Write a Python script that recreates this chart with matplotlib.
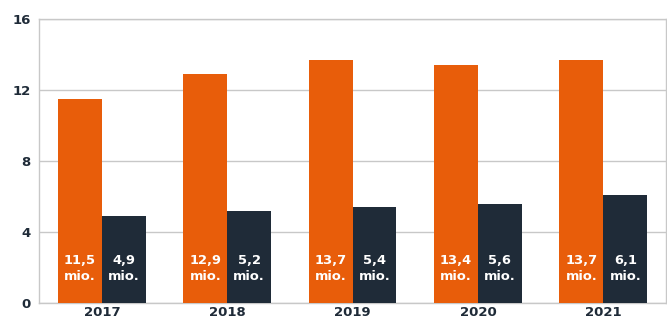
import matplotlib.pyplot as plt
import numpy as np

years = ['2017', '2018', '2019', '2020', '2021']
orange_vals = [11.5, 12.9, 13.7, 13.4, 13.7]
dark_vals = [4.9, 5.2, 5.4, 5.6, 6.1]

orange = '#E85D0A'
dark = '#1F2B38'
grid_c = '#C8C8C8'

fig = plt.figure(figsize=(6.67, 3.18), dpi=100)
ax = fig.add_axes([0.0588, 0.047, 0.9397, 0.892])

x = np.arange(len(years))
width = 0.35

b1 = ax.bar(x - width / 2, orange_vals, width, color=orange, zorder=3)
b2 = ax.bar(x + width / 2, dark_vals, width, color=dark, zorder=3)

for rects, vals in [(b1, orange_vals), (b2, dark_vals)]:
    for r, v in zip(rects, vals):
        ax.text(r.get_x() + r.get_width() / 2, 1.95,
                f'{v:.1f}'.replace('.', ',') + '\nmio.',
                ha='center', va='center', color='white', fontsize=9.4,
                fontweight='bold', linespacing=1.3, zorder=4)

ax.set_xlim(-0.5, 4.5)
ax.set_ylim(0, 16)
ax.set_yticks([0, 4, 8, 12, 16])
ax.set_xticks(x)
ax.set_xticklabels(years)
ax.grid(axis='y', color=grid_c, linewidth=1, zorder=0)
for s in ax.spines.values():
    s.set_color(grid_c)
    s.set_linewidth(1)
ax.tick_params(length=0, labelsize=9.5, labelcolor='#1F2B38', pad=6)
ax.tick_params(axis='x', pad=2)
for lbl in ax.get_xticklabels() + ax.get_yticklabels():
    lbl.set_fontweight('bold')

fig.savefig('out.png', dpi=100)
